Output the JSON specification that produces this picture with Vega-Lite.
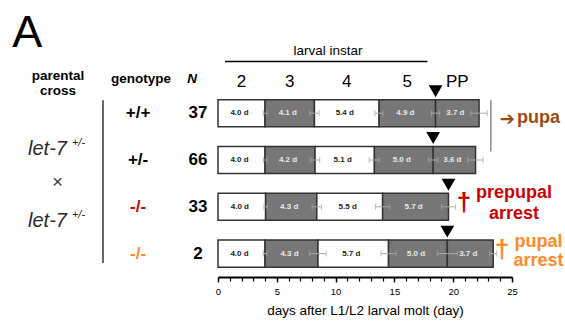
{
  "$schema": "https://vega.github.io/schema/vega-lite/v6.json",
  "width": 294,
  "height": 234,
  "autosize": {"type": "none"},
  "padding": {"left": 218, "top": 43, "right": 53, "bottom": 52},
  "background": "white",
  "config": {"view": {"stroke": null}, "font": "Liberation Sans", "text": {"font": "Liberation Sans"}},
  "resolve": {"axis": {"x": "independent"}},
  "datasets": {
    "segments": [
      {"row": "1", "instar": "2", "start": 0, "end": 4.0, "label": "4.0 d", "sd": 0.15},
      {"row": "1", "instar": "3", "start": 4.0, "end": 8.2, "label": "4.1 d", "sd": 0.4},
      {"row": "1", "instar": "4", "start": 8.2, "end": 13.7, "label": "5.4 d", "sd": 0.35},
      {"row": "1", "instar": "5", "start": 13.7, "end": 18.5, "label": "4.9 d", "sd": 0.35},
      {"row": "1", "instar": "PP", "start": 18.5, "end": 22.2, "label": "3.7 d", "sd": 0.7},
      {"row": "2", "instar": "2", "start": 0, "end": 4.0, "label": "4.0 d", "sd": 0.15},
      {"row": "2", "instar": "3", "start": 4.0, "end": 8.25, "label": "4.2 d", "sd": 0.4},
      {"row": "2", "instar": "4", "start": 8.25, "end": 13.3, "label": "5.1 d", "sd": 0.45},
      {"row": "2", "instar": "5", "start": 13.3, "end": 18.3, "label": "5.0 d", "sd": 0.4},
      {"row": "2", "instar": "PP", "start": 18.3, "end": 21.9, "label": "3.6 d", "sd": 0.65},
      {"row": "3", "instar": "2", "start": 0, "end": 4.05, "label": "4.0 d", "sd": 0.15},
      {"row": "3", "instar": "3", "start": 4.05, "end": 8.4, "label": "4.3 d", "sd": 0.4},
      {"row": "3", "instar": "4", "start": 8.4, "end": 14.0, "label": "5.5 d", "sd": 0.6},
      {"row": "3", "instar": "5", "start": 14.0, "end": 19.6, "label": "5.7 d", "sd": 0.6},
      {"row": "4", "instar": "2", "start": 0, "end": 4.0, "label": "4.0 d", "sd": 0.15},
      {"row": "4", "instar": "3", "start": 4.0, "end": 8.5, "label": "4.3 d", "sd": 0.7},
      {"row": "4", "instar": "4", "start": 8.5, "end": 14.5, "label": "5.7 d", "sd": 0.65},
      {"row": "4", "instar": "5", "start": 14.5, "end": 19.5, "label": "5.0 d", "sd": 0.85},
      {"row": "4", "instar": "PP", "start": 19.5, "end": 23.4, "label": "3.7 d", "sd": 0.3}
    ],
    "rows": [
      {"row": "1", "genotype": "+/+", "n": 37},
      {"row": "2", "genotype": "+/-", "n": 66},
      {"row": "3", "genotype": "-/-", "n": 33},
      {"row": "4", "genotype": "-/-", "n": 2}
    ]
  },
  "layer": [
    {
      "data": {"name": "segments"},
      "mark": {"type": "bar", "stroke": "#333333", "strokeWidth": 1.5},
      "encoding": {
        "x": {
          "field": "start", "type": "quantitative",
          "scale": {"domain": [0, 25], "nice": false, "zero": false},
          "axis": {
            "orient": "bottom",
            "values": [0, 5, 10, 15, 20, 25],
            "labelOverlap": false, "labelFlush": false,
            "domainColor": "#000000", "domainWidth": 2,
            "tickColor": "#000000", "tickWidth": 1.4, "tickSize": 5,
            "labelFontSize": 9.5, "labelColor": "#000000", "labelPadding": 4,
            "title": "days after L1/L2 larval molt (day)",
            "titleFontSize": 13.5, "titleFontWeight": "normal", "titleColor": "#000000", "titlePadding": 8,
            "grid": false
          }
        },
        "x2": {"field": "end"},
        "y": {
          "field": "row", "type": "nominal",
          "scale": {"domain": ["hdr", "1", "2", "3", "4"], "paddingInner": 0.42, "paddingOuter": 0.21},
          "axis": null
        },
        "color": {
          "field": "instar", "type": "nominal",
          "scale": {"domain": ["2", "3", "4", "5", "PP"], "range": ["#ffffff", "#777777", "#ffffff", "#777777", "#777777"]},
          "legend": null
        }
      }
    },
    {
      "data": {"name": "segments"},
      "mark": {"type": "errorbar", "color": "#a8a8a8", "thickness": 1, "ticks": {"size": 6, "color": "#a8a8a8"}},
      "encoding": {
        "x": {
          "field": "end", "type": "quantitative",
          "axis": {
            "orient": "bottom",
            "values": [0,1,2,3,4,5,6,7,8,9,10,11,12,13,14,15,16,17,18,19,20,21,22,23,24,25],
            "labels": false, "domain": false, "title": null, "grid": false,
            "tickColor": "#000000", "tickWidth": 1.2, "tickSize": 4
          }
        },
        "xError": {"field": "sd"},
        "y": {"field": "row", "type": "nominal", "axis": null}
      }
    },
    {
      "data": {"name": "segments"},
      "transform": [{"fold": ["start", "end"], "as": ["edge", "day"]}],
      "mark": {"type": "text", "fontSize": 8, "fontWeight": "bold", "dx": -2},
      "encoding": {
        "x": {"field": "day", "aggregate": "mean", "type": "quantitative", "axis": null},
        "y": {"field": "row", "type": "nominal", "axis": null},
        "detail": {"field": "instar"},
        "text": {"field": "label"},
        "color": {"condition": {"test": "datum.instar === '2' || datum.instar === '4'", "value": "#222222"}, "value": "#e8e8e8"}
      }
    },
    {
      "data": {"name": "segments"},
      "transform": [{"filter": "datum.instar === '5'"}],
      "mark": {"type": "point", "shape": "triangle-down", "filled": true, "color": "#000000", "opacity": 1, "size": 190, "yOffset": -22},
      "encoding": {
        "x": {"field": "end", "type": "quantitative", "axis": null},
        "y": {"field": "row", "type": "nominal", "axis": null}
      }
    },
    {
      "data": {"name": "segments"},
      "transform": [{"filter": "datum.row === '1'"}, {"fold": ["start", "end"], "as": ["edge", "day"]}],
      "mark": {"type": "text", "fontSize": 17, "baseline": "alphabetic", "dy": 20.4, "color": "#000000"},
      "encoding": {
        "x": {"field": "day", "aggregate": "mean", "type": "quantitative", "axis": null},
        "y": {"datum": "hdr", "type": "nominal", "axis": null},
        "text": {"field": "instar"}
      }
    },
    {
      "data": {"name": "rows"},
      "mark": {"type": "text", "fontSize": 17, "fontWeight": "bold"},
      "encoding": {
        "x": {"datum": -6.8, "type": "quantitative", "axis": null},
        "y": {"field": "row", "type": "nominal", "axis": null},
        "text": {"field": "genotype"},
        "color": {"condition": [{"test": "datum.row === '3'", "value": "#cc0000"}, {"test": "datum.row === '4'", "value": "#ff8a2a"}], "value": "#000000"}
      }
    },
    {
      "data": {"name": "rows"},
      "mark": {"type": "text", "fontSize": 17, "fontWeight": "bold", "color": "#000000"},
      "encoding": {
        "x": {"datum": -1.7, "type": "quantitative", "axis": null},
        "y": {"field": "row", "type": "nominal", "axis": null},
        "text": {"field": "n"}
      }
    },
    {
      "data": {"values": [{}]},
      "mark": {"type": "text", "fontSize": 45, "align": "left", "baseline": "alphabetic", "dy": -19.6, "color": "#000000", "text": "A"},
      "encoding": {
        "x": {"datum": -17.5, "type": "quantitative", "axis": null},
        "y": {"datum": "hdr", "type": "nominal", "axis": null}
      }
    },
    {
      "data": {"values": [{}]},
      "mark": {"type": "text", "fontSize": 13.5, "baseline": "alphabetic", "dy": -11.6, "color": "#000000", "text": "larval instar"},
      "encoding": {
        "x": {"datum": 9.35, "type": "quantitative", "axis": null},
        "y": {"datum": "hdr", "type": "nominal", "axis": null}
      }
    },
    {
      "data": {"values": [{}]},
      "mark": {"type": "rule", "strokeWidth": 1.5, "color": "#000000", "yOffset": -4.8},
      "encoding": {
        "x": {"datum": 0.6, "type": "quantitative", "axis": null},
        "x2": {"datum": 17.8},
        "y": {"datum": "hdr", "type": "nominal", "axis": null}
      }
    },
    {
      "data": {"values": [{}]},
      "mark": {"type": "text", "fontSize": 13.5, "fontWeight": "bold", "baseline": "alphabetic", "dy": 13.4, "lineHeight": 15.5, "color": "#000000", "text": ["parental", "cross"]},
      "encoding": {
        "x": {"datum": -13.6, "type": "quantitative", "axis": null},
        "y": {"datum": "hdr", "type": "nominal", "axis": null}
      }
    },
    {
      "data": {"values": [{}]},
      "mark": {"type": "text", "fontSize": 13.5, "fontWeight": "bold", "baseline": "alphabetic", "dy": 16.6, "color": "#000000", "text": "genotype"},
      "encoding": {
        "x": {"datum": -6.55, "type": "quantitative", "axis": null},
        "y": {"datum": "hdr", "type": "nominal", "axis": null}
      }
    },
    {
      "data": {"values": [{}]},
      "mark": {"type": "text", "fontSize": 13.5, "fontWeight": "bold", "fontStyle": "italic", "baseline": "alphabetic", "dy": 16.6, "color": "#000000", "text": "N"},
      "encoding": {
        "x": {"datum": -2.2, "type": "quantitative", "axis": null},
        "y": {"datum": "hdr", "type": "nominal", "axis": null}
      }
    },
    {
      "data": {"values": [{}]},
      "mark": {"type": "rule", "strokeWidth": 1.5, "color": "#333333", "yOffset": -13, "y2Offset": 9.5},
      "encoding": {
        "x": {"datum": -9.78, "type": "quantitative", "axis": null},
        "y": {"datum": "1", "type": "nominal", "axis": null},
        "y2": {"datum": "4"}
      }
    },
    {
      "data": {"values": [{}]},
      "mark": {"type": "text", "fontSize": 20, "fontStyle": "italic", "baseline": "alphabetic", "dy": -5, "color": "#2a2a2a", "text": "let-7"},
      "encoding": {
        "x": {"datum": -14.5, "type": "quantitative", "axis": null},
        "y": {"datum": "2", "type": "nominal", "axis": null}
      }
    },
    {
      "data": {"values": [{}]},
      "mark": {"type": "text", "fontSize": 11, "fontStyle": "italic", "baseline": "alphabetic", "dy": -14.4, "color": "#2a2a2a", "text": "+/-"},
      "encoding": {
        "x": {"datum": -11.86, "type": "quantitative", "axis": null},
        "y": {"datum": "2", "type": "nominal", "axis": null}
      }
    },
    {
      "data": {"values": [{}]},
      "mark": {"type": "text", "fontSize": 19, "baseline": "middle", "dy": -24.4, "color": "#444444", "text": "×"},
      "encoding": {
        "x": {"datum": -13.65, "type": "quantitative", "axis": null},
        "y": {"datum": "3", "type": "nominal", "axis": null}
      }
    },
    {
      "data": {"values": [{}]},
      "mark": {"type": "text", "fontSize": 20, "fontStyle": "italic", "baseline": "alphabetic", "dy": 20.6, "color": "#2a2a2a", "text": "let-7"},
      "encoding": {
        "x": {"datum": -14.5, "type": "quantitative", "axis": null},
        "y": {"datum": "3", "type": "nominal", "axis": null}
      }
    },
    {
      "data": {"values": [{}]},
      "mark": {"type": "text", "fontSize": 11, "fontStyle": "italic", "baseline": "alphabetic", "dy": 11.6, "color": "#2a2a2a", "text": "+/-"},
      "encoding": {
        "x": {"datum": -11.86, "type": "quantitative", "axis": null},
        "y": {"datum": "3", "type": "nominal", "axis": null}
      }
    },
    {
      "data": {"values": [{}]},
      "mark": {"type": "rule", "strokeWidth": 1.5, "color": "#888888", "yOffset": -13, "y2Offset": -8.4},
      "encoding": {
        "x": {"datum": 23.2, "type": "quantitative", "axis": null},
        "y": {"datum": "1", "type": "nominal", "axis": null},
        "y2": {"datum": "2"}
      }
    },
    {
      "data": {"values": [{}]},
      "mark": {"type": "text", "font": "DejaVu Sans", "fontSize": 18, "baseline": "middle", "dy": 6.8, "color": "#9c4a10", "text": "➔"},
      "encoding": {
        "x": {"datum": 24.6, "type": "quantitative", "axis": null},
        "y": {"datum": "1", "type": "nominal", "axis": null}
      }
    },
    {
      "data": {"values": [{}]},
      "mark": {"type": "text", "fontSize": 18, "fontWeight": "bold", "align": "left", "baseline": "alphabetic", "dy": 9.8, "color": "#9c4a10", "text": "pupa"},
      "encoding": {
        "x": {"datum": 25.43, "type": "quantitative", "axis": null},
        "y": {"datum": "1", "type": "nominal", "axis": null}
      }
    },
    {
      "data": {"values": [{}]},
      "mark": {"type": "text", "fontSize": 26, "fontWeight": "bold", "baseline": "middle", "dy": -4, "color": "#cc0000", "text": "†"},
      "encoding": {
        "x": {"datum": 20.92, "type": "quantitative", "axis": null},
        "y": {"datum": "3", "type": "nominal", "axis": null}
      }
    },
    {
      "data": {"values": [{}]},
      "mark": {"type": "text", "fontSize": 18, "fontWeight": "bold", "baseline": "alphabetic", "dy": -8.4, "lineHeight": 21, "color": "#cc0000", "text": ["prepupal", "arrest"]},
      "encoding": {
        "x": {"datum": 25.17, "type": "quantitative", "axis": null},
        "y": {"datum": "3", "type": "nominal", "axis": null}
      }
    },
    {
      "data": {"values": [{}]},
      "mark": {"type": "text", "fontSize": 26, "fontWeight": "bold", "baseline": "middle", "dy": -4, "color": "#ff8a2a", "text": "†"},
      "encoding": {
        "x": {"datum": 24.15, "type": "quantitative", "axis": null},
        "y": {"datum": "4", "type": "nominal", "axis": null}
      }
    },
    {
      "data": {"values": [{}]},
      "mark": {"type": "text", "fontSize": 18, "fontWeight": "bold", "baseline": "alphabetic", "dy": -6.6, "lineHeight": 19, "color": "#ff8a2a", "text": ["pupal", "arrest"]},
      "encoding": {
        "x": {"datum": 27.25, "type": "quantitative", "axis": null},
        "y": {"datum": "4", "type": "nominal", "axis": null}
      }
    }
  ]
}
